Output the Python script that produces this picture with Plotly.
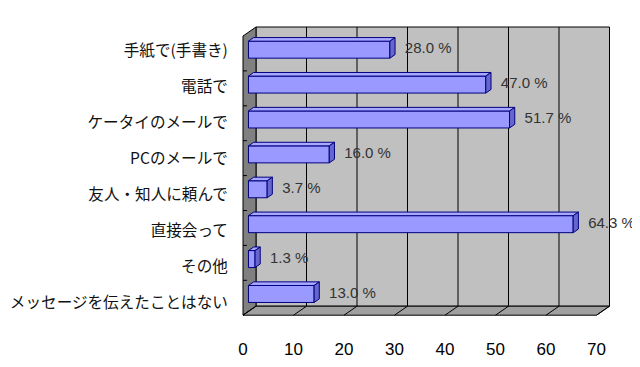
import plotly.graph_objects as go

# ---- data ----
categories = ["手紙で(手書き)", "電話で", "ケータイのメールで", "PCのメールで",
              "友人・知人に頼んで", "直接会って", "その他", "メッセージを伝えたことはない"]
values = [28.0, 47.0, 51.7, 16.0, 3.7, 64.3, 1.3, 13.0]
x_ticks = [0, 10, 20, 30, 40, 50, 60, 70]

# ---- geometry (pixel-based pseudo 3D); page has an 8px body margin ----
OFF = 8
W, H = 640 - OFF, 367 - OFF
ML, MB = 238 - OFF, 37
X0PX, SX = 243.0 - OFF, 5.05   # front plane: pixel x of value 0, px per unit
Y0PX, SY = 36.0 - OFF, 34.9    # front plane: pixel y of top, px per category
DXP, DYP = 13.0, 9.0           # full depth offset in px (right, up)
XMAX = 70
NC = len(categories)

def P(v, u, f):
    """data coords of a point at value v, category-position u, depth fraction f"""
    return (v + f * DXP / SX, u - f * DYP / SY)

def path(points):
    return "M " + " L ".join(f"{x:.4f},{y:.4f}" for x, y in points) + " Z"

shapes = []
line_black = dict(color="black", width=1)
shapes.append(dict(type="path", xref="x", yref="y", layer="below",
                   path=path([P(0, 0, 1), P(XMAX, 0, 1), P(XMAX, NC, 1), P(0, NC, 1)]),
                   fillcolor="#c0c0c0", line=line_black))
shapes.append(dict(type="path", xref="x", yref="y", layer="below",
                   path=path([P(0, 0, 0), P(0, 0, 1), P(0, NC, 1), P(0, NC, 0)]),
                   fillcolor="#808080", line=line_black))
shapes.append(dict(type="path", xref="x", yref="y", layer="below",
                   path=path([P(0, NC, 0), P(XMAX, NC, 0), P(XMAX, NC, 1), P(0, NC, 1)]),
                   fillcolor="#a0a0a0", line=line_black))
for t in x_ticks:
    if 0 < t < XMAX:
        (xa, ya), (xb, yb) = P(t, 0, 1), P(t, NC, 1)
        shapes.append(dict(type="line", xref="x", yref="y", layer="below",
                           x0=xa, y0=ya, x1=xb, y1=yb, line=line_black))
    (xa, ya), (xb, yb) = P(t, NC, 0), P(t, NC, 1)
    shapes.append(dict(type="line", xref="x", yref="y", layer="below",
                       x0=xa, y0=ya, x1=xb, y1=yb, line=line_black))
for k in range(1, NC):
    shapes.append(dict(type="line", xref="x", yref="y", layer="below",
                       x0=0, y0=k, x1=4 / SX, y1=k, line=line_black))

FB0, FB1 = 0.42, 0.82
BH = 17.0 / SY
bar_y = []
for i, v in enumerate(values):
    uc = i + 0.5
    _, ycf = P(0, uc, FB0)
    bar_y.append(ycf)
    top, bot = uc - BH / 2, uc + BH / 2
    shapes.append(dict(type="path", xref="x", yref="y", layer="above",
                       path=path([P(0, top, FB0), P(v, top, FB0), P(v, top, FB1), P(0, top, FB1)]),
                       fillcolor="#a8a8ff", line=dict(color="#000080", width=1)))
    shapes.append(dict(type="path", xref="x", yref="y", layer="above",
                       path=path([P(v, top, FB0), P(v, top, FB1), P(v, bot, FB1), P(v, bot, FB0)]),
                       fillcolor="#6666cc", line=dict(color="#000080", width=1)))

base = FB0 * DXP / SX
fig = go.Figure()
fig.add_trace(go.Bar(
    orientation="h", y=bar_y, x=values, base=[base] * NC, width=BH,
    marker=dict(color="#9999ff", line=dict(color="#000080", width=1)),
    hoverinfo="skip", showlegend=False))
fig.add_trace(go.Scatter(
    x=[v + base + 15 / SX for v in values], y=bar_y, mode="text",
    text=[f"{v:.1f} %" for v in values], textposition="middle right",
    textfont=dict(family="Liberation Sans", size=15, color="#333333"),
    hoverinfo="skip", showlegend=False, cliponaxis=False))

x_lo = (ML - X0PX) / SX
x_hi = (W - X0PX) / SX
y_top = (0 - Y0PX) / SY
y_bot = (H - MB - Y0PX) / SY
# category label positions (labels are spaced slightly wider than bars)
label_u = [(51 - 36 + 36 * i) / SY for i in range(NC)]

fig.update_layout(
    template="none",
    width=W, height=H, margin=dict(l=ML, r=0, t=0, b=MB, pad=0, autoexpand=False),
    paper_bgcolor="white", plot_bgcolor="white",
    shapes=shapes, showlegend=False,
    xaxis=dict(range=[x_lo, x_hi], tickvals=x_ticks, ticktext=[str(t) for t in x_ticks],
               showgrid=False, zeroline=False, showline=False,
               ticks="outside", ticklen=4, tickcolor="rgba(0,0,0,0)", automargin=False,
               tickfont=dict(family="Liberation Sans", size=17, color="black"),
               fixedrange=True),
    yaxis=dict(range=[y_bot, y_top], tickvals=label_u,
               ticktext=categories, showgrid=False, zeroline=False, showline=False,
               ticks="outside", ticklen=6, tickcolor="rgba(0,0,0,0)", automargin=False,
               tickfont=dict(family="Noto Sans CJK JP", size=15.6, color="#111111"),
               fixedrange=True),
)
fig.write_html("out.html")
